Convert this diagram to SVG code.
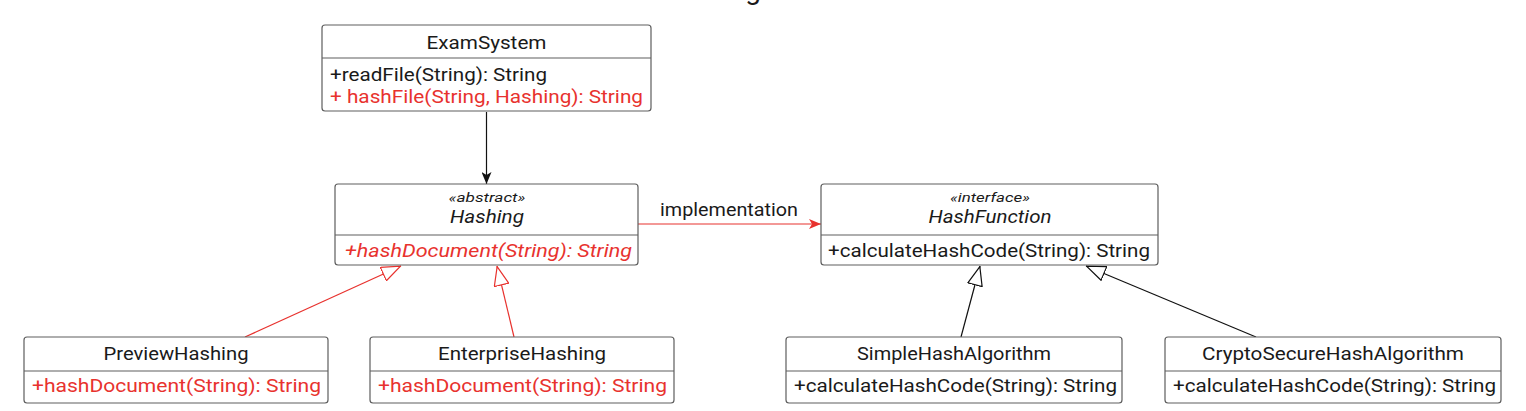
<svg xmlns="http://www.w3.org/2000/svg" width="1526" height="411" viewBox="0 0 1526 411">
<style>
.box{fill:#ffffff;stroke:#5e5e5e;stroke-width:1.2}
.div{stroke:#5e5e5e;stroke-width:1.2}
text{font-family:Roboto,"Liberation Sans",sans-serif;font-size:17.5px;fill:#1a1a1a}
.c{text-anchor:middle}
.r{fill:#e8322e}
.i{font-style:italic}
.st{font-size:12px;font-style:italic}
.ln{fill:none;stroke-width:1.2}
</style>
<defs>
<marker id="ab" viewBox="0 0 12 10" refX="12" refY="5" markerWidth="12" markerHeight="10" markerUnits="userSpaceOnUse" orient="auto">
<path d="M0,0 L12,5 L0,10 L3,5 Z" fill="#111"/>
</marker>
<marker id="ar" viewBox="0 0 12 10" refX="12" refY="5" markerWidth="12" markerHeight="10" markerUnits="userSpaceOnUse" orient="auto">
<path d="M0,0 L12,5 L0,10 L3,5 Z" fill="#e8322e"/>
</marker>
<marker id="tb" viewBox="0 0 20 16" refX="20" refY="8" markerWidth="20" markerHeight="16" markerUnits="userSpaceOnUse" orient="auto">
<path d="M0.6,0.6 L19.4,8 L0.6,15.4 Z" fill="#fff" stroke="#111" stroke-width="1.2"/>
</marker>
<marker id="tr" viewBox="0 0 20 16" refX="20" refY="8" markerWidth="20" markerHeight="16" markerUnits="userSpaceOnUse" orient="auto">
<path d="M0.6,0.6 L19.4,8 L0.6,15.4 Z" fill="#fff" stroke="#e8322e" stroke-width="1.2"/>
</marker>
</defs>
<text class="c" x="753" y="-1" style="font-size:28px">g</text>
<g id="connectors">
<line class="ln" x1="486.5" y1="112" x2="486.5" y2="184" stroke="#111" marker-end="url(#ab)"/>
<line class="ln" x1="638" y1="224" x2="821" y2="224" stroke="#e8322e" marker-end="url(#ar)"/>
<text class="c" x="729" y="216" textLength="138" lengthAdjust="spacingAndGlyphs">implementation</text>
<line class="ln" x1="245" y1="337" x2="401" y2="266" stroke="#e8322e" marker-end="url(#tr)"/>
<line class="ln" x1="514" y1="337" x2="497" y2="266" stroke="#e8322e" marker-end="url(#tr)"/>
<line class="ln" x1="961" y1="337" x2="980" y2="266" stroke="#111" marker-end="url(#tb)"/>
<line class="ln" x1="1256" y1="337" x2="1086" y2="266" stroke="#111" marker-end="url(#tb)"/>
</g>
<g id="ExamSystem">
<rect class="box" x="322" y="25" width="329" height="86" rx="3"/>
<line class="div" x1="322" y1="58" x2="651" y2="58"/>
<text class="c" x="486.5" y="49" textLength="120" lengthAdjust="spacingAndGlyphs">ExamSystem</text>
<text x="330" y="80.5" textLength="217" lengthAdjust="spacingAndGlyphs">+readFile(String): String</text>
<text class="r" x="330" y="102.5" textLength="313" lengthAdjust="spacingAndGlyphs">+ hashFile(String, Hashing): String</text>
</g>
<g id="Hashing">
<rect class="box" x="335" y="184" width="303" height="81" rx="3"/>
<line class="div" x1="335" y1="235" x2="638" y2="235"/>
<text class="c st" x="487" y="202" textLength="77" lengthAdjust="spacingAndGlyphs">«abstract»</text>
<text class="c i" x="487" y="223" textLength="74" lengthAdjust="spacingAndGlyphs">Hashing</text>
<text class="r i" x="345" y="256.5" textLength="287" lengthAdjust="spacingAndGlyphs">+hashDocument(String): String</text>
</g>
<g id="HashFunction">
<rect class="box" x="821" y="184" width="337" height="81" rx="3"/>
<line class="div" x1="821" y1="235" x2="1158" y2="235"/>
<text class="c st" x="990" y="202" textLength="80" lengthAdjust="spacingAndGlyphs">«interface»</text>
<text class="c i" x="990" y="223" textLength="123" lengthAdjust="spacingAndGlyphs">HashFunction</text>
<text x="828" y="256.5" textLength="322" lengthAdjust="spacingAndGlyphs">+calculateHashCode(String): String</text>
</g>
<g id="PreviewHashing">
<rect class="box" x="24" y="337" width="304" height="66" rx="3"/>
<line class="div" x1="24" y1="371" x2="328" y2="371"/>
<text class="c" x="176" y="360" textLength="145" lengthAdjust="spacingAndGlyphs">PreviewHashing</text>
<text class="r" x="32" y="392" textLength="289" lengthAdjust="spacingAndGlyphs">+hashDocument(String): String</text>
</g>
<g id="EnterpriseHashing">
<rect class="box" x="370" y="337" width="304" height="66" rx="3"/>
<line class="div" x1="370" y1="371" x2="674" y2="371"/>
<text class="c" x="522" y="360" textLength="168" lengthAdjust="spacingAndGlyphs">EnterpriseHashing</text>
<text class="r" x="378" y="392" textLength="289" lengthAdjust="spacingAndGlyphs">+hashDocument(String): String</text>
</g>
<g id="SimpleHashAlgorithm">
<rect class="box" x="786" y="337" width="336" height="66" rx="3"/>
<line class="div" x1="786" y1="371" x2="1122" y2="371"/>
<text class="c" x="954" y="360" textLength="194" lengthAdjust="spacingAndGlyphs">SimpleHashAlgorithm</text>
<text x="794" y="392" textLength="323" lengthAdjust="spacingAndGlyphs">+calculateHashCode(String): String</text>
</g>
<g id="CryptoSecureHashAlgorithm">
<rect class="box" x="1165" y="337" width="336" height="66" rx="3"/>
<line class="div" x1="1165" y1="371" x2="1501" y2="371"/>
<text class="c" x="1333" y="360" textLength="262" lengthAdjust="spacingAndGlyphs">CryptoSecureHashAlgorithm</text>
<text x="1173" y="392" textLength="323" lengthAdjust="spacingAndGlyphs">+calculateHashCode(String): String</text>
</g>
</svg>
